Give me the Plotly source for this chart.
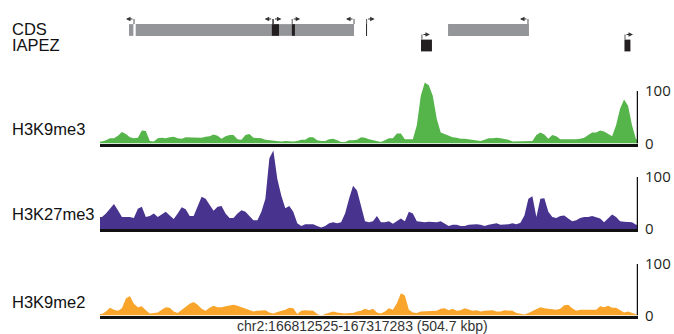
import numpy as np
import plotly.graph_objects as go

# ---------------- data ----------------
REGION = "chr2:166812525-167317283 (504.7 kbp)"
REGION_KB = 504.7
TRACKS = ["H3K9me3", "H3K27me3", "H3K9me2"]
TRACK_COLORS = ["#55b54a", "#48338f", "#f9a52c"]
TICK_VALS = [0, 100]
TICK_TEXT = ["0", "100"]

h3k9me3 = [4, 6, 10, 10, 15, 22, 18, 12, 10, 11, 25, 24, 5, 4, 10, 11, 10, 12, 13, 10,
           9, 12, 12, 12, 11, 11, 13, 14, 17, 15, 9, 14, 16, 16, 8, 7, 16, 18, 11, 10,
           10, 7, 6, 5, 4, 4, 5, 4, 4, 5, 7, 7, 12, 12, 6, 5, 5, 8, 9, 6,
           3, 3, 6, 6, 7, 12, 11, 8,
           6, 4, 3, 6, 10, 10, 19, 19, 8, 8, 8, 35, 91, 116, 111, 91, 47, 21, 18, 14,
           12, 11, 9, 9, 8, 6, 6, 5, 7, 10, 10, 11, 10, 9, 7, 4, 4, 5, 4, 4,
           5, 16, 21, 17, 9, 16, 14, 8, 8, 8, 7, 8, 9, 11, 16, 21, 21, 25, 23, 19,
           14, 35, 66, 84, 72, 35, 8]

h3k27me3 = [23, 30, 39, 48, 36, 23, 23, 23, 21, 39, 43, 23, 25, 30, 23, 28, 33, 26, 19, 30,
            42, 38, 25, 25, 45, 62, 58, 47, 35, 43, 44, 30, 21, 21, 30, 36, 33, 25, 17, 17,
            33, 58, 136, 151, 96, 64, 40, 44, 33, 11, 6, 9, 9, 9, 6, 3, 6, 11, 13, 11,
            13, 30, 58, 83, 74, 42, 15, 13,
            15, 25, 13, 13, 15, 10, 15, 20, 15, 33, 30, 15, 14, 13, 14, 13, 13, 15, 11, 6,
            8, 8, 6, 6, 8, 9, 9, 8, 6, 8, 9, 11, 8, 8, 9, 11, 9, 12, 26, 58,
            63, 23, 58, 59, 33, 23, 21, 25, 26, 20, 15, 17, 21, 23, 23, 25, 23, 20, 13, 20,
            28, 23, 15, 14, 14, 13, 8]

h3k9me2 = [3, 8, 15, 11, 9, 14, 33, 38, 23, 16, 18, 10, 4, 5, 6, 11, 16, 15, 8, 5,
           11, 18, 23, 26, 21, 13, 9, 15, 19, 16, 16, 18, 20, 21, 19, 16, 13, 10, 8, 9,
           10, 10, 6, 4, 7, 9, 11, 15, 14, 3, 9, 10, 10, 9, 3, 0, 3, 6, 8, 6,
           5, 4, 5, 5, 8, 9, 13, 10,
           13, 6, 4, 8, 14, 11, 24, 43, 39, 11, 6, 5, 8, 8, 8, 8, 9, 13, 14, 10,
           13, 9, 10, 14, 11, 9, 10, 8, 9, 9, 10, 8, 8, 10, 10, 9, 5, 4, 2, 5,
           9, 13, 16, 14, 13, 11, 11, 13, 20, 21, 14, 9, 11, 11, 11, 11, 11, 18, 16, 19,
           15, 15, 10, 6, 8, 5, 1]

SIGNALS = [h3k9me3, h3k27me3, h3k9me2]

# gene annotation track (kb from region start)
GENE_ROWS = ["IAPEZ", "CDS"]
feat_start = [27.2, 33.5, 161.0, 167.9, 179.8, 182.9, 249.6, 326.5, 301.1, 492.0]
feat_end = [31.3, 161.0, 167.9, 179.8, 182.9, 238.3, 250.5, 402.4, 311.4, 497.6]
feat_row = ["CDS", "CDS", "CDS", "CDS", "CDS", "CDS", "CDS", "CDS", "IAPEZ", "IAPEZ"]
feat_color = ["#939598", "#939598", "#231f20", "#939598", "#231f20", "#939598",
              "#231f20", "#939598", "#231f20", "#231f20"]
tss_pos = [31.9, 162.0, 162.7, 180.3, 238.3, 250.1, 401.5, 302.0, 492.5]
tss_dir = [-1, -1, 1, 1, -1, 1, -1, 1, 1]
tss_row = ["CDS", "CDS", "CDS", "CDS", "CDS", "CDS", "CDS", "IAPEZ", "IAPEZ"]

# ---------------- layout helpers ----------------
W, H = 674, 334
def px_x(p):
    return p / W
def px_y(p):
    return 1 - p / H

X_LEFT, X_RIGHT = 100, 638
# (bottom px, top px, yrange max)
track_dom = [(143.5, 77.9, 125), (229.0, 145.8, 160), (315.5, 251.1, 125)]

fig = go.Figure()
n = len(h3k9me3)
bin_kb = REGION_KB / n
xs = list((np.arange(n) + 0.5) * bin_kb)
xs = [0.0] + xs + [REGION_KB]

for i, (name, col, vals) in enumerate(zip(TRACKS, TRACK_COLORS, SIGNALS)):
    ya = "y" if i == 0 else f"y{i+1}"
    fig.add_trace(go.Scatter(
        x=xs, y=[vals[0]] + list(vals) + [vals[-1]], mode="lines",
        line=dict(width=0, color=col, shape="linear"),
        fill="tozeroy", fillcolor=col, xaxis="x" if i == 0 else f"x{i+1}", yaxis=ya,
        hoverinfo="skip", showlegend=False))

layout = dict(template="none", width=W, height=H,
              margin=dict(l=0, r=0, t=0, b=0, pad=0, autoexpand=False),
              paper_bgcolor="white", plot_bgcolor="white", showlegend=False)

for i in range(3):
    b, t, ymax = track_dom[i]
    xk = "xaxis" if i == 0 else f"xaxis{i+1}"
    yk = "yaxis" if i == 0 else f"yaxis{i+1}"
    yname = "y" if i == 0 else f"y{i+1}"
    layout[xk] = dict(domain=[px_x(X_LEFT), px_x(X_RIGHT)], range=[0, REGION_KB],
                      anchor=yname, showgrid=False, zeroline=False, showticklabels=False,
                      ticks="", showline=True, linecolor="#111111", linewidth=2.5,
                      automargin=False)
    if i > 0:
        layout[xk]["matches"] = "x"
    layout[yk] = dict(domain=[px_y(b), px_y(t)], range=[0, ymax], side="right",
                      anchor="x" if i == 0 else f"x{i+1}",
                      showgrid=False, zeroline=False, showline=False, automargin=False,
                      tickvals=TICK_VALS, ticktext=TICK_TEXT, ticks="",
                      ticklabelstandoff=6,
                      tickfont=dict(family="Open Sans, sans-serif", size=15, color="#231f20"))

# gene track axis
layout["xaxis4"] = dict(domain=[px_x(X_LEFT), px_x(X_RIGHT)], range=[0, REGION_KB],
                        anchor="y4", visible=False, matches="x", automargin=False)
layout["yaxis4"] = dict(domain=[px_y(58), px_y(8)], range=[-0.806, 2.419],
                        anchor="x4", visible=False, automargin=False)
fig.update_layout(**layout)

shapes = []
# right-hand scale bars
for i in range(3):
    yname = "y" if i == 0 else f"y{i+1}"
    xname = "x" if i == 0 else f"x{i+1}"
    shapes.append(dict(type="line", xref=xname, yref=yname, x0=REGION_KB, x1=REGION_KB,
                       y0=0, y1=TICK_VALS[1], line=dict(color="#111111", width=2.5)))

row_idx = {r: k for k, r in enumerate(GENE_ROWS)}
HALF = 0.38
for s, e, r, c in zip(feat_start, feat_end, feat_row, feat_color):
    yc = row_idx[r]
    shapes.append(dict(type="rect", xref="x4", yref="y4", x0=s, x1=e,
                       y0=yc - HALF, y1=yc + HALF, fillcolor=c, line=dict(width=0)))

annotations = []
ARROW_LEN = 7.5
for p, d, r in zip(tss_pos, tss_dir, tss_row):
    yc = row_idx[r]
    ytop = yc + HALF + 0.33
    shapes.append(dict(type="line", xref="x4", yref="y4", x0=p, x1=p, y0=yc + HALF, y1=ytop,
                       line=dict(color="#555555", width=1)))
    annotations.append(dict(x=p + d * ARROW_LEN, y=ytop, ax=p, ay=ytop, xref="x4", yref="y4",
                            axref="x4", ayref="y4", text="", showarrow=True,
                            arrowhead=2, arrowsize=0.9, arrowwidth=1, arrowcolor="#333333"))

LABEL_FONT = dict(family="Liberation Sans, Arial, sans-serif", size=16.5, color="#111111")
for txt, ypx in [("CDS", 29.5), ("IAPEZ", 45), ("H3K9me3", 129), ("H3K27me3", 214), ("H3K9me2", 302)]:
    annotations.append(dict(x=px_x(10), y=px_y(ypx), xref="paper", yref="paper", text=txt,
                            showarrow=False, xanchor="left", yanchor="middle", font=LABEL_FONT))
annotations.append(dict(x=px_x(362), y=px_y(325.5), xref="paper", yref="paper", text=REGION,
                        showarrow=False, xanchor="center", yanchor="middle",
                        font=dict(family="Liberation Sans, Arial, sans-serif", size=14, color="#333333")))

fig.update_layout(shapes=shapes, annotations=annotations)
fig.write_html("out.html", config={"displayModeBar": False},
               post_script="document.body.style.margin='0';document.body.style.overflow='hidden';")
